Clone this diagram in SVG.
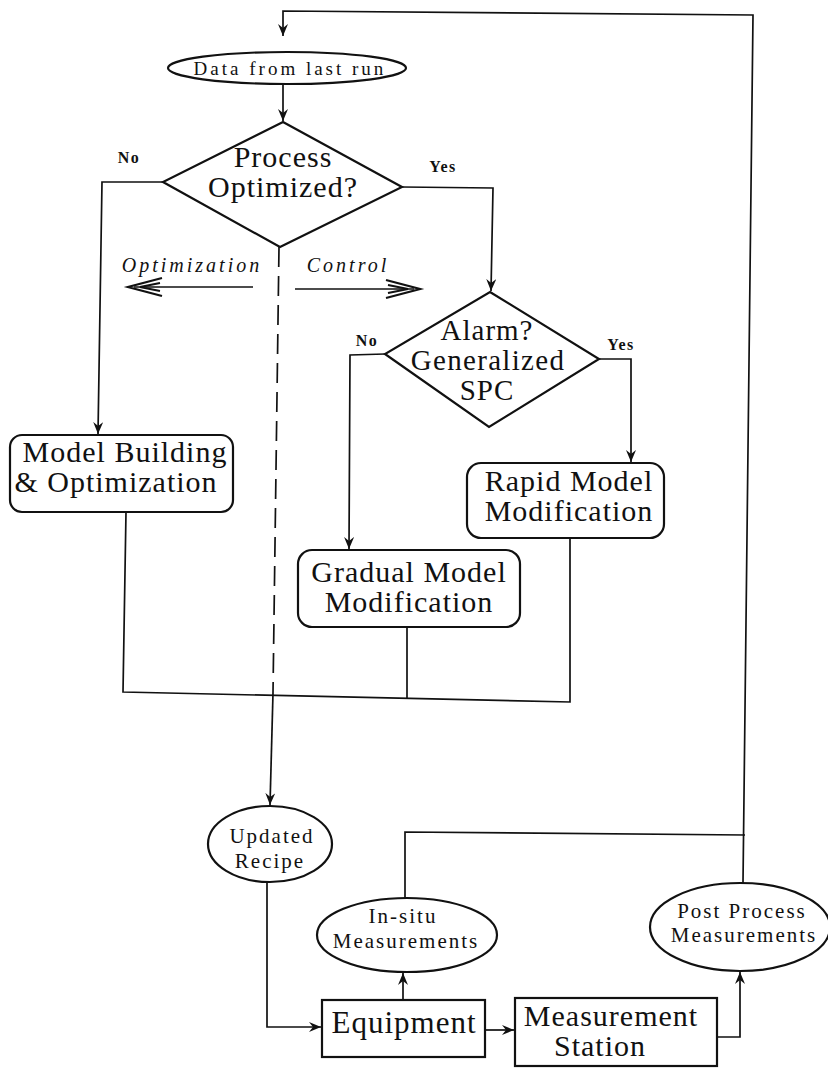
<svg xmlns="http://www.w3.org/2000/svg" width="828" height="1068" viewBox="0 0 828 1068">
  <style>
    .bg { fill: #ffffff; }
    .node { fill: #ffffff; stroke: #111; stroke-width: 2.2; }
    .wire { fill: none; stroke: #111; stroke-width: 1.7; stroke-linejoin: miter; }
    .dash { fill: none; stroke: #111; stroke-width: 1.7; stroke-dasharray: 20 9; }
    .chev { fill: none; stroke: #111; stroke-width: 2.2; stroke-linejoin: miter; }
    .big { font-family: "Liberation Serif", "Times New Roman", serif; font-size: 30px; fill: #111; text-anchor: middle; letter-spacing: 1px; }
    .small { font-family: "Liberation Serif", "Times New Roman", serif; font-size: 21px; fill: #111; text-anchor: middle; letter-spacing: 2px; }
    .lbl { font-family: "Liberation Serif", "Times New Roman", serif; font-size: 16px; font-weight: bold; fill: #111; text-anchor: middle; letter-spacing: 1.5px; }
    .ital { font-family: "Liberation Serif", "Times New Roman", serif; font-size: 20px; font-style: italic; fill: #111; text-anchor: middle; letter-spacing: 3px; }
  </style>
  <defs>
    <marker id="arr" viewBox="0 0 12 10" refX="12" refY="5" markerWidth="12" markerHeight="10" orient="auto" markerUnits="userSpaceOnUse">
      <path d="M0,0 L12,5 L0,10 L4,5 z" fill="#111"/>
    </marker>
  </defs>

  <rect class="bg" x="0" y="0" width="828" height="1068"/>

  <!-- connectors -->
  <g id="connectors">
    <!-- feedback loop from post-process measurements back to the start -->
    <path class="wire" d="M743,883 L753,15 L283,11 L283,36" marker-end="url(#arr)"/>
    <path class="wire" d="M283,84 L283,121" marker-end="url(#arr)"/>
    <!-- Process Optimized? branches -->
    <path class="wire" d="M163,182 L102,182 L98,434" marker-end="url(#arr)"/>
    <path class="wire" d="M402,187 L493,188 L491,291" marker-end="url(#arr)"/>
    <!-- optimization / control direction arrows -->
    <line class="wire" x1="253" y1="287" x2="134" y2="287" stroke-width="2"/>
    <polyline class="chev" points="162,278 128,287 162,296"/>
    <polyline class="chev" points="160,283 140,287 160,291" stroke-width="1.6"/>
    <line class="wire" x1="295" y1="289" x2="414" y2="289" stroke-width="2"/>
    <polyline class="chev" points="386,280 420,289 386,298"/>
    <polyline class="chev" points="388,285 408,289 388,293" stroke-width="1.6"/>
    <!-- direct recipe path -->
    <path class="dash" d="M279,247 L273,693"/>
    <path class="wire" d="M273,693 L270,805" marker-end="url(#arr)"/>
    <!-- Alarm branches -->
    <path class="wire" d="M385,354 L350,355 L349,549" marker-end="url(#arr)"/>
    <path class="wire" d="M599,359 L631,359 L631,462" marker-end="url(#arr)"/>
    <!-- model outputs merge -->
    <path class="wire" d="M126,512 L123,692 L570,702 L570,538"/>
    <path class="wire" d="M407,627 L407,699"/>
    <!-- equipment loop -->
    <path class="wire" d="M267,882 L267,1027 L321,1027" marker-end="url(#arr)"/>
    <path class="wire" d="M485,1030 L514,1030" marker-end="url(#arr)"/>
    <path class="wire" d="M403,1000 L403,973" marker-end="url(#arr)"/>
    <path class="wire" d="M405,898 L405,832 L745,835"/>
    <path class="wire" d="M717,1037 L740,1037 L740,972" marker-end="url(#arr)"/>
  </g>

  <!-- branch labels -->
  <g id="labels">
    <text class="lbl" x="129" y="163">No</text>
    <text class="lbl" x="443" y="172">Yes</text>
    <text class="ital" x="192" y="272">Optimization</text>
    <text class="ital" x="348" y="272">Control</text>
    <text class="lbl" x="367" y="346">No</text>
    <text class="lbl" x="621" y="350">Yes</text>
  </g>

  <g id="data-last-run">
    <ellipse class="node" cx="287" cy="68" rx="119" ry="16"/>
    <text class="small" x="290" y="75" style="font-size:19px;letter-spacing:3px">Data from last run</text>
  </g>

  <g id="process-optimized">
    <polygon class="node" points="283,122 402,187 280,247 163,182"/>
    <text class="big" x="283" y="167">Process</text>
    <text class="big" x="283" y="197">Optimized?</text>
  </g>

  <g id="model-building">
    <rect class="node" x="10" y="435" width="223" height="77" rx="12"/>
    <text class="big" x="125" y="462">Model Building</text>
    <text class="big" x="116" y="492">&amp; Optimization</text>
  </g>

  <g id="alarm">
    <polygon class="node" points="490,292 599,359 489,427 385,354"/>
    <text class="big" x="487" y="340" style="font-size:29px">Alarm?</text>
    <text class="big" x="488" y="370" style="font-size:29px;letter-spacing:1.3px">Generalized</text>
    <text class="big" x="487" y="400" style="font-size:29px">SPC</text>
  </g>

  <g id="rapid-model">
    <rect class="node" x="467" y="463" width="197" height="75" rx="14"/>
    <text class="big" x="569" y="491">Rapid Model</text>
    <text class="big" x="569" y="521">Modification</text>
  </g>

  <g id="gradual-model">
    <rect class="node" x="298" y="550" width="222" height="77" rx="14"/>
    <text class="big" x="409" y="582">Gradual Model</text>
    <text class="big" x="409" y="612">Modification</text>
  </g>

  <g id="updated-recipe">
    <ellipse class="node" cx="270" cy="844" rx="62" ry="38"/>
    <text class="small" x="272" y="843">Updated</text>
    <text class="small" x="270" y="868">Recipe</text>
  </g>

  <g id="in-situ">
    <ellipse class="node" cx="407" cy="935" rx="90" ry="37"/>
    <text class="small" x="403" y="923">In-situ</text>
    <text class="small" x="406" y="948">Measurements</text>
  </g>

  <g id="post-process">
    <ellipse class="node" cx="740" cy="927" rx="90" ry="44"/>
    <text class="small" x="742" y="918">Post Process</text>
    <text class="small" x="744" y="942">Measurements</text>
  </g>

  <g id="equipment">
    <rect class="node" x="322" y="1000" width="163" height="57"/>
    <text class="big" x="404" y="1033" style="font-size:31px">Equipment</text>
  </g>

  <g id="measurement-station">
    <rect class="node" x="515" y="998" width="202" height="68"/>
    <text class="big" x="611" y="1026">Measurement</text>
    <text class="big" x="600" y="1056">Station</text>
  </g>
</svg>
